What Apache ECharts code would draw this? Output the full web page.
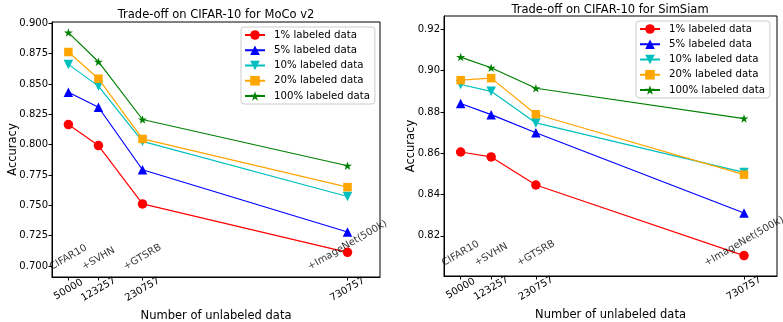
<!DOCTYPE html>
<html><head><meta charset="utf-8">
<script src="https://cdn.jsdelivr.net/npm/echarts@6/dist/echarts.min.js"></script>
<style>html,body{margin:0;padding:0;background:#fff}#c{width:783px;height:322px}</style>
</head><body><div id="c"></div><script>
// ---- data ----
const xValues = [50000, 123257, 230757, 730757];
const xTickLabels = ['50000', '123257', '230757', '730757'];
const datasetLabels = ['CIFAR10', '+SVHN', '+GTSRB', '+ImageNet(500k)'];
const seriesNames = ['1% labeled data', '5% labeled data', '10% labeled data', '20% labeled data', '100% labeled data'];
const mocoAcc1   = [0.8165, 0.7992, 0.7512, 0.7113];
const mocoAcc5   = [0.8432, 0.8308, 0.7793, 0.7281];
const mocoAcc10  = [0.8661, 0.8482, 0.8027, 0.7573];
const mocoAcc20  = [0.8763, 0.8543, 0.8047, 0.7650];
const mocoAcc100 = [0.8923, 0.8683, 0.8207, 0.7826];
const simAcc1    = [0.8606, 0.8582, 0.8446, 0.8104];
const simAcc5    = [0.8841, 0.8787, 0.8699, 0.8310];
const simAcc10   = [0.8933, 0.8900, 0.8747, 0.8507];
const simAcc20   = [0.8954, 0.8964, 0.8789, 0.8496];
const simAcc100  = [0.9066, 0.9014, 0.8915, 0.8768];
const mocoYTicks = [0.700, 0.725, 0.750, 0.775, 0.800, 0.825, 0.850, 0.875, 0.900];
const simYTicks  = [0.82, 0.84, 0.86, 0.88, 0.90, 0.92];
const mocoTextY = 0.6958;
const simTextY = 0.8047;

// ---- styles ----
const FONT = 'DejaVu Sans';
const STAR = 'path://M0,-100L22.45,-30.9L95.1,-30.9L36.33,11.8L58.78,80.9L0,38.2L-58.78,80.9L-36.33,11.8L-95.1,-30.9L-22.45,-30.9Z';
const styles = [
  {color: '#ff0000', symbol: 'circle', size: 9.5, rot: 0},
  {color: '#0000ff', symbol: 'triangle', size: 9.5, rot: 0},
  {color: '#00bfbf', symbol: 'triangle', size: 9.5, rot: 180},
  {color: '#ffa500', symbol: 'rect', size: 8.5, rot: 0},
  {color: '#008000', symbol: STAR, size: 9, rot: 0}
];

const ctx = document.createElement('canvas').getContext('2d');
ctx.font = '10px "' + FONT + '"';
// offset (in the label's rotated frame) that puts the rotated text's box bottom-centre on the anchor
function annotOffset(t) {
  const w = ctx.measureText(t).width;
  const D = (w * 0.5 + 8 * 0.866) / 2;
  return [D * 0.5, -D * 0.866];
}

function lineSeries(arrs, gi) {
  return arrs.map((arr, k) => ({
    type: 'line', name: seriesNames[k], xAxisIndex: gi, yAxisIndex: gi,
    data: xValues.map((x, i) => [x, arr[i]]),
    symbol: styles[k].symbol, symbolSize: styles[k].size, symbolRotate: styles[k].rot,
    symbolKeepAspect: true, showSymbol: true,
    lineStyle: {color: styles[k].color, width: 1.2},
    itemStyle: {color: styles[k].color},
    animation: false, z: 2 + k * 0.01
  }));
}
function annotSeries(gi, ty) {
  return {
    type: 'scatter', xAxisIndex: gi, yAxisIndex: gi, silent: true, z: 5,
    symbolSize: 1, itemStyle: {color: 'transparent'}, animation: false,
    data: xValues.map((x, i) => ({
      value: [x, ty], name: datasetLabels[i],
      label: {offset: annotOffset(datasetLabels[i])}
    })),
    label: {show: true, position: 'inside', formatter: '{b}', rotate: 30,
      align: 'center', verticalAlign: 'middle', color: '#000', fontSize: 10, fontFamily: FONT}
  };
}
function xAxisCfg(gi) {
  return {
    gridIndex: gi, type: 'value', min: 10000, max: 810000,
    axisLine: {show: true, lineStyle: {color: '#000', width: 1}},
    axisTick: {show: true, customValues: xValues, length: 3.5, lineStyle: {color: '#000'}},
    axisLabel: {customValues: xValues, formatter: v => xTickLabels[xValues.indexOf(v)],
      rotate: 30, align: 'center', verticalAlign: 'middle', margin: 12.5,
      fontSize: 10, color: '#000', fontFamily: FONT, hideOverlap: false},
    splitLine: {show: false},
    name: 'Number of unlabeled data', nameLocation: 'middle', nameGap: 33, nameMoveOverlap: false,
    nameTextStyle: {fontSize: 11.5, color: '#000', fontFamily: FONT}
  };
}
function yAxisCfg(gi, min, max, ticks, dec, gap) {
  return {
    gridIndex: gi, type: 'value', min: min, max: max,
    axisLine: {show: true, lineStyle: {color: '#000', width: 1}},
    axisTick: {show: true, customValues: ticks, length: 3.5, lineStyle: {color: '#000'}},
    axisLabel: {customValues: ticks, formatter: v => v.toFixed(dec), margin: 4,
      fontSize: 10, color: '#000', fontFamily: FONT, hideOverlap: false},
    splitLine: {show: false},
    name: 'Accuracy', nameLocation: 'middle', nameGap: gap, nameMoveOverlap: false,
    nameTextStyle: {fontSize: 11.5, color: '#000', fontFamily: FONT}
  };
}
function legendCfg(left, top) {
  return {
    data: seriesNames, left: left, top: top, orient: 'vertical',
    itemWidth: 20, itemHeight: 12, itemGap: 3.25, padding: [2, 5, 2, 3],
    backgroundColor: 'rgba(255,255,255,0.8)', borderColor: '#cccccc', borderWidth: 1, borderRadius: 3,
    textStyle: {fontSize: 10.2, color: '#000', fontFamily: FONT, lineHeight: 12, padding: [0, 0, 0, 4]},
    selectedMode: false
  };
}

const chart = echarts.init(document.getElementById('c'), null, {renderer: 'canvas'});
chart.setOption({
  animation: false,
  backgroundColor: '#fff',
  textStyle: {fontFamily: FONT},
  title: [
    {text: 'Trade-off on CIFAR-10 for MoCo v2', left: 216, top: 9, textAlign: 'center', padding: 0,
      textStyle: {fontSize: 11.5, fontWeight: 'normal', color: '#000', fontFamily: FONT}},
    {text: 'Trade-off on CIFAR-10 for SimSiam', left: 610, top: 4.5, textAlign: 'center', padding: 0,
      textStyle: {fontSize: 11.5, fontWeight: 'normal', color: '#000', fontFamily: FONT}}
  ],
  legend: [legendCfg(241, 27), legendCfg(636, 21)],
  grid: [
    {left: 52, top: 22, right: 403, bottom: 45, show: true, borderColor: '#000', borderWidth: 1, backgroundColor: 'transparent', containLabel: false, outerBoundsMode: 'none'},
    {left: 444, top: 16, right: 6, bottom: 46, show: true, borderColor: '#000', borderWidth: 1, backgroundColor: 'transparent', containLabel: false, outerBoundsMode: 'none'}
  ],
  xAxis: [xAxisCfg(0), xAxisCfg(1)],
  yAxis: [yAxisCfg(0, 0.691, 0.901, mocoYTicks, 3, 33), yAxisCfg(1, 0.8005, 0.9265, simYTicks, 2, 27)],
  series: [
    ...lineSeries([mocoAcc1, mocoAcc5, mocoAcc10, mocoAcc20, mocoAcc100], 0),
    ...lineSeries([simAcc1, simAcc5, simAcc10, simAcc20, simAcc100], 1),
    annotSeries(0, mocoTextY),
    annotSeries(1, simTextY)
  ]
});
</script></body></html>
